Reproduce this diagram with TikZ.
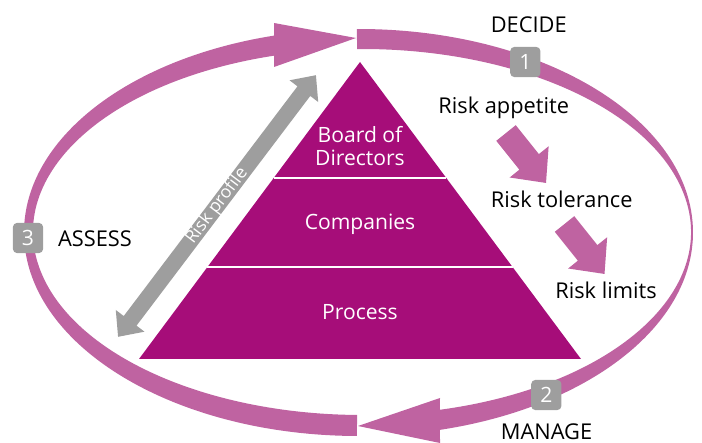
\documentclass[tikz,border=0pt]{standalone}
\usepackage{fontspec}
\setmainfont{Open Sans}
\usetikzlibrary{calc}

\definecolor{pyrplum}{RGB}{166,13,121}
\definecolor{cyclepink}{RGB}{191,99,161}
\definecolor{stepgray}{RGB}{158,158,158}

\tikzset{
  cycletext/.style={font=\fontsize{15.5}{18}\selectfont, anchor=base, inner sep=0pt},
  layertext/.style={font=\fontsize{15}{16}\selectfont, text=white, inner sep=0pt},
  badge/.style={fill=stepgray, rounded corners=3pt, minimum size=21.5pt, inner sep=0pt, text=white, font=\fontsize{15}{18}\selectfont},
}

\begin{document}
\begin{tikzpicture}[x=0.25mm, y=0.25mm]
\useasboundingbox (0,0) rectangle (702,443);
\coordinate(Co) at (358.5,210.5);
\coordinate(Ci) at (362,211);
% cycle, right half
\fill[cyclepink] ($(Co)+(90.26:334.5 and 203.5)$) arc[start angle=90.26, end angle=-75.9, x radius=334.5, y radius=203.5]
  -- (440,0) -- (358,17) -- (440,45)
  -- ($(Ci)+(-76.3:329 and 183)$) arc[start angle=-76.3, end angle=90.87, x radius=329, y radius=183] -- cycle;
% cycle, left half
\fill[cyclepink] ($(Co)+(269.74:334.5 and 203.5)$) arc[start angle=269.74, end angle=104.6, x radius=334.5, y radius=203.5]
  -- (274,420) -- (356,405) -- (274,376)
  -- ($(Ci)+(105.5:329 and 183)$) arc[start angle=105.5, end angle=269.13, x radius=329, y radius=183] -- cycle;

% pyramid
\coordinate(top) at (360,381);
\coordinate(bl) at (139,84);
\coordinate(br) at (581,84);
\fill[pyrplum] (top) -- (bl) -- (br) -- cycle;
\draw[white, line width=1.2pt] ($(top)!.3906!(bl)$) -- ($(top)!.3906!(br)$);
\draw[white, line width=1.2pt] ($(top)!.6902!(bl)$) -- ($(top)!.6902!(br)$);
\node[layertext, align=center] (board) at (360,297) {Board of\\Directors};
\node[layertext, anchor=base] (companies) at (360,213) {Companies};
\node[layertext, anchor=base] (process) at (360,123) {Process};

% risk profile
\coordinate(prof) at (217,237);
\begin{scope}[shift={(prof)}, rotate=52.9]
\fill[stepgray] (-164,0) -- (-144,18) -- (-144,8) -- (144,8) -- (144,18) -- (164,0)
  -- (144,-18) -- (144,-8) -- (-144,-8) -- (-144,-18) -- cycle;
\end{scope}
\node[text=white, font=\fontsize{12.5}{14}\selectfont, rotate=52.9] (profile) at (prof) {Risk profile};

% appetite -> tolerance -> limits
\coordinate(tol) at (506,310);
\coordinate(lim) at (564.5,219);
\begin{scope}[shift={(tol)}, rotate=-51.3]
\fill[cyclepink] (0,-12.5) -- (37,-12.5) -- (37,-25) -- (64,0) -- (37,25) -- (37,12.5) -- (0,12.5) -- cycle;
\end{scope}
\begin{scope}[shift={(lim)}, rotate=-51.3]
\fill[cyclepink] (0,-12.5) -- (37,-12.5) -- (37,-25) -- (64,0) -- (37,25) -- (37,12.5) -- (0,12.5) -- cycle;
\end{scope}

\node[cycletext] (appetite) at (503.7,329) {Risk appetite};
\node[cycletext] (tolerance) at (561.7,235.7) {Risk tolerance};
\node[cycletext] (limits) at (606,144.7) {Risk limits};
\node[cycletext] (decide) at (528.7,410.7) {DECIDE};
\node[cycletext] (manage) at (546.5,3) {MANAGE};
\node[cycletext] (assess) at (95,196.3) {ASSESS};

\node[badge] (one) at (525.3,381) {1};
\node[badge] (two) at (546.3,48) {2};
\node[badge] (three) at (28,205) {3};
\end{tikzpicture}
\end{document}
